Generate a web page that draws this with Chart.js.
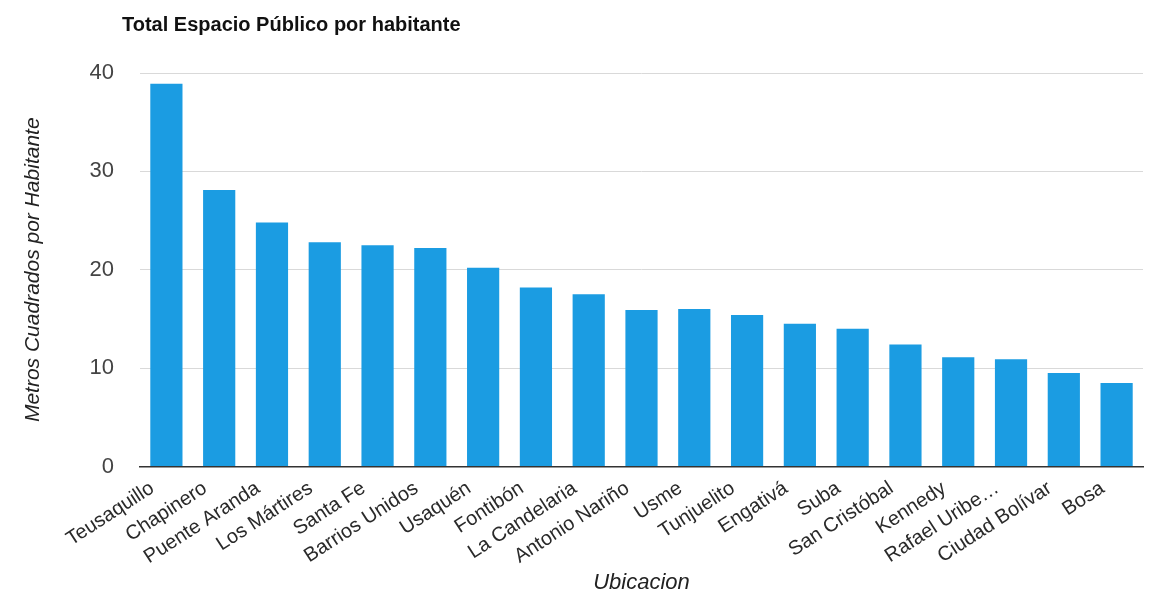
<!DOCTYPE html>
<html>
<head>
<meta charset="utf-8">
<script src="https://cdn.jsdelivr.net/npm/chart.js@4"></script>
<style>
  html, body { margin: 0; padding: 0; background: #fff; }
  #wrap { width: 1169px; height: 596px; }
</style>
</head>
<body>
<div id="wrap"><canvas id="myChart" width="1169" height="596"></canvas></div>
<script>
var localidades = ['Teusaquillo', 'Chapinero', 'Puente Aranda', 'Los Mártires', 'Santa Fe',
  'Barrios Unidos', 'Usaquén', 'Fontibón', 'La Candelaria', 'Antonio Nariño', 'Usme',
  'Tunjuelito', 'Engativá', 'Suba', 'San Cristóbal', 'Kennedy', 'Rafael Uribe…',
  'Ciudad Bolívar', 'Bosa'];
var metrosPorHabitante = [38.9, 28.1, 24.8, 22.8, 22.5, 22.2, 20.2, 18.2, 17.5, 15.9, 16.0,
  15.4, 14.5, 14.0, 12.4, 11.1, 10.9, 9.5, 8.5];
var yTicks = [0, 10, 20, 30, 40];

var FONT = 'Arial, "Liberation Sans", sans-serif';

// title drawn at the top left, like the original
var tituloPlugin = {
  id: 'titulo',
  afterDraw: function(chart) {
    var ctx = chart.ctx;
    ctx.save();
    ctx.font = 'bold 20px ' + FONT;
    ctx.fillStyle = '#111';
    ctx.textBaseline = 'middle';
    ctx.textAlign = 'left';
    ctx.fillText('Total Espacio Público por habitante', 122, 25);
    ctx.restore();
  }
};

var chart1 = document.getElementById('myChart').getContext('2d');

new Chart(chart1, {
  type: 'bar',
  data: {
    labels: localidades,
    datasets: [{
      label: 'Metros Cuadrados por Habitante',
      backgroundColor: '#1b9ce2',
      data: metrosPorHabitante,
      categoryPercentage: 0.61,
      barPercentage: 1.0
    }]
  },
  options: {
    responsive: false,
    animation: false,
    layout: { padding: { top: 73, right: 26, left: 0, bottom: 0 } },
    plugins: {
      legend: { display: false },
      tooltip: { enabled: false }
    },
    scales: {
      x: {
        grid: { display: false },
        border: { color: '#333', width: 1.5 },
        ticks: {
          color: '#2a2a2a',
          font: { family: FONT, size: 20 },
          maxRotation: 33,
          minRotation: 33,
          autoSkip: false,
          padding: 2,
          labelOffset: -14
        },
        title: {
          display: true,
          text: 'Ubicacion',
          color: '#222',
          font: { family: FONT, size: 22, style: 'italic' },
          padding: { top: 0, bottom: 0 }
        },
        afterFit: function(scale) { scale.height = 129.5; }
      },
      y: {
        min: 0,
        max: 40,
        afterBuildTicks: function(scale) {
          scale.ticks = yTicks.map(function(v) { return { value: v }; });
        },
        grid: {
          color: function(c) { return c.tick && c.tick.value === 0 ? '#333' : '#d9d9d9'; },
          drawTicks: false
        },
        border: { display: false },
        ticks: {
          color: '#444',
          font: { family: FONT, size: 22 },
          padding: 26
        },
        title: {
          display: true,
          text: 'Metros Cuadrados por Habitante',
          color: '#222',
          font: { family: FONT, size: 21, style: 'italic' },
          padding: { top: 21, bottom: 0 }
        },
        afterFit: function(scale) { scale.width = 140; }
      }
    }
  },
  plugins: [tituloPlugin]
});
</script>
</body>
</html>
